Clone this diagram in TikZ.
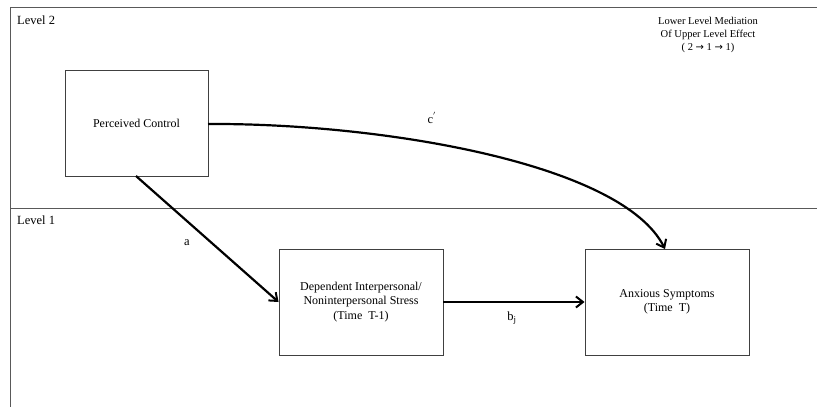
\documentclass[tikz,border=0pt]{standalone}
\usepackage{fontspec}
\setmainfont{Liberation Serif}
\newfontfamily\symfont{DejaVu Sans}
\newcommand{\myarr}{{\symfont\fontsize{10}{12}\selectfont →}}
\usetikzlibrary{arrows.meta}
\begin{document}
\begin{tikzpicture}[x=1pt,y=-1pt,
  boxst/.style={draw=black!75, line width=0.9pt, inner sep=0pt, align=center, font=\fontsize{12}{14.5}\selectfont},
  conn/.style={line width=2.2pt, -{Straight Barb[length=7pt,width=11pt,line width=2pt]}},
  lab/.style={font=\fontsize{12.5}{14}\selectfont, inner sep=0pt},
  framest/.style={draw=black!65, line width=1pt}]
\useasboundingbox (0,0) rectangle (817,407);
\fill[white] (0,0) rectangle (817,407);
% frame
\draw[framest] (10,407) -- (10,7) -- (817,7);
\draw[framest] (10,208) -- (817,208);
\node[lab, anchor=west] (l2) at (17,20) {Level 2};
\node[lab, anchor=west] (l1) at (17,220) {Level 1};
\node[align=center, font=\fontsize{10.5}{12.6}\selectfont, inner sep=0pt] (note) at (708,35) {Lower Level Mediation\\Of Upper Level Effect\\( 2 \myarr{} 1 \myarr{} 1)};
% boxes
\node[boxst, minimum width=143pt, minimum height=106pt] (pc) at (136.5,123) {Perceived Control};
\node[boxst, minimum width=164pt, minimum height=106pt] (ds) at (361,302) {Dependent Interpersonal/\\Noninterpersonal Stress\\(Time\ \ T-1)};
\node[boxst, minimum width=164pt, minimum height=106pt] (ax) at (667,302) {Anxious Symptoms\\(Time\ \ T)};
% connectors
\coordinate (pcs) at (136,176);
\draw[conn] (pcs) -- (ds.west);
\draw[conn] (ds.east) -- (ax.west);
\coordinate (pce) at (208,124);
\coordinate (axt) at (665,249);
\draw[conn] (pce) .. controls (380,123) and (622,163) .. (axt);
\node[lab] (la) at (187,243) {a};
\node[lab] (lb) at (512,318) {b$_{\mathrm{j}}$};
\node[lab] (lc) at (432,118) {c$^{'}$};
\end{tikzpicture}
\end{document}
